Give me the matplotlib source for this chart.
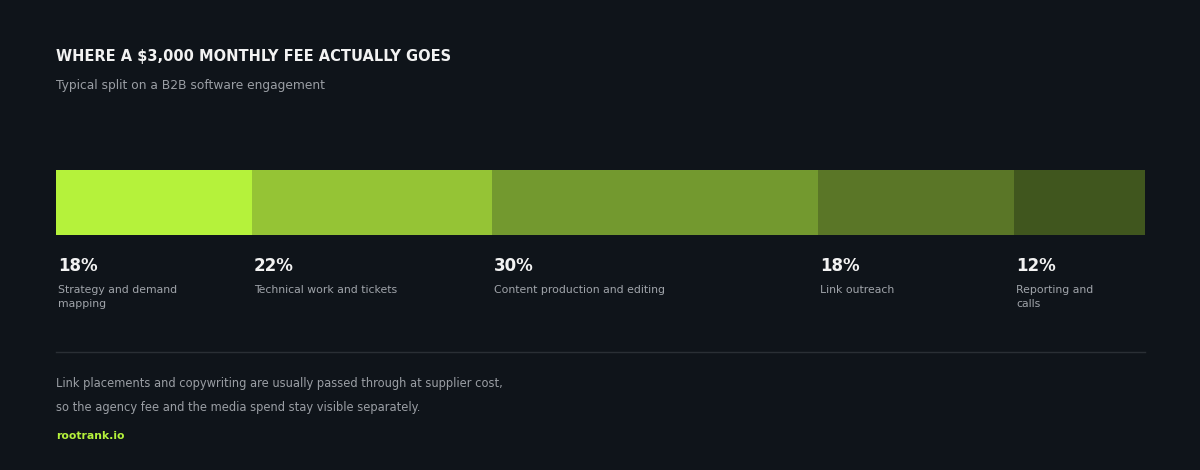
import matplotlib
matplotlib.use("Agg")
import matplotlib.pyplot as plt

plt.rcParams['font.family'] = ['DejaVu Sans']

shares = [18, 22, 30, 18, 12]
labels = ["Strategy and demand\nmapping", "Technical work and tickets",
          "Content production and editing", "Link outreach", "Reporting and\ncalls"]
colors = ["#b5f23b", "#95c435", "#73992f", "#5a7627", "#40561e"]

bg = "#0f141a"
fig = plt.figure(figsize=(12, 4.7), dpi=100, facecolor=bg)
ax = fig.add_axes([0, 0, 1, 1])
ax.set_facecolor(bg)
ax.set_xlim(0, 1200)
ax.set_ylim(470, 0)
ax.axis("off")

ax.text(56, 56, "WHERE A $3,000 MONTHLY FEE ACTUALLY GOES", color="#f2f2f2",
        fontsize=10.5, fontweight="bold", va="center")
ax.text(56, 86, "Typical split on a B2B software engagement", color="#9a9ea4",
        fontsize=8.8, va="center")

x0, width = 56, 1089
left = x0
for s, lab, c in zip(shares, labels, colors):
    w = width * s / 100
    ax.barh(202.5, w, height=65, left=left, color=c, edgecolor="none")
    ax.text(left + 2, 266, f"{s}%", color="#f2f2f2", fontsize=12, fontweight="bold", va="center")
    ax.text(left + 2, 285, lab, color="#a0a4aa", fontsize=7.8, va="top", linespacing=1.45)
    left += w

ax.plot([56, 1145], [352, 352], color="#2a2f35", lw=1)
ax.text(56, 383, "Link placements and copywriting are usually passed through at supplier cost,",
        color="#9a9ea4", fontsize=8.3, va="center")
ax.text(56, 407, "so the agency fee and the media spend stay visible separately.",
        color="#9a9ea4", fontsize=8.3, va="center")
ax.text(56, 436, "rootrank.io", color="#b5f23b", fontsize=7.8, fontweight="bold", va="center")

fig.savefig("out.png", dpi=100, facecolor=bg)
